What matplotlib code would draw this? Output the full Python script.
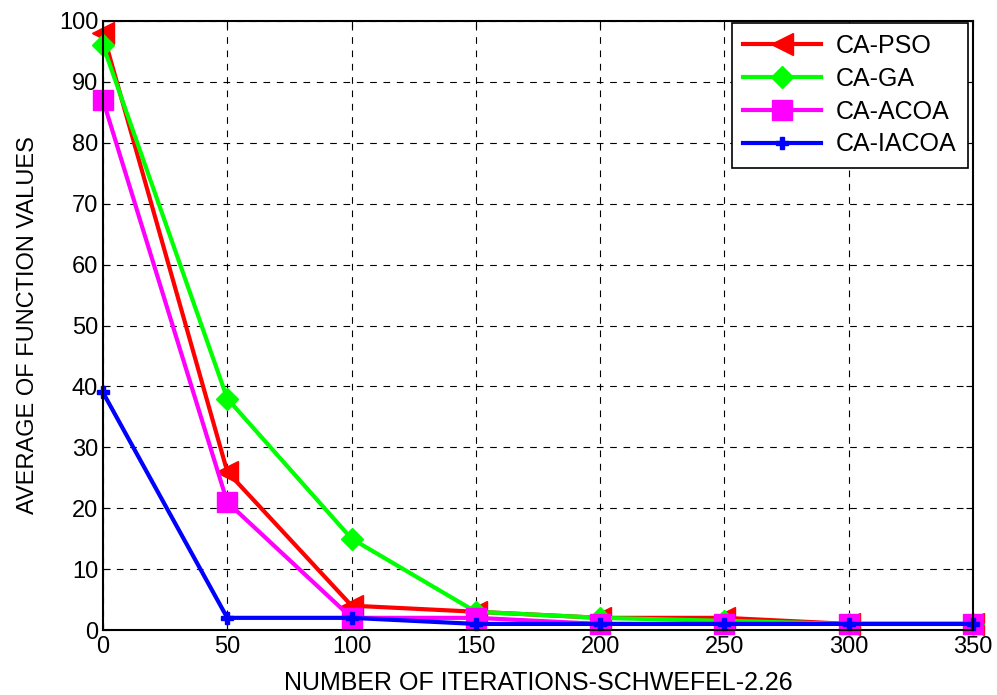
import matplotlib.pyplot as plt

plt.rcParams['font.family'] = ['Liberation Sans', 'DejaVu Sans']

iterations = [0, 50, 100, 150, 200, 250, 300, 350]
ca_pso = [98, 26, 4, 3, 2, 2, 1, 1]
ca_ga = [96, 38, 15, 3, 2, 1.5, 1, 1]
ca_acoa = [87, 21, 2, 2, 1, 1, 1, 1]
ca_iacoa = [39, 2, 2, 1, 1, 1, 1, 1]

fig = plt.figure(figsize=(9.97, 6.95), dpi=100)
ax = fig.add_axes([0.1033, 0.0935, 0.8726, 0.8763])

ax.plot(iterations, ca_pso, color='red', lw=3, marker='<', ms=16, label='CA-PSO', clip_on=False)
ax.plot(iterations, ca_ga, color='#00ff00', lw=3, marker='D', ms=11, label='CA-GA', clip_on=False)
ax.plot(iterations, ca_acoa, color='magenta', lw=3, marker='s', ms=14, label='CA-ACOA', clip_on=False)
ax.plot(iterations, ca_iacoa, color='blue', lw=3, marker='P', ms=9, label='CA-IACOA', clip_on=False)

ax.set_xlim(0, 350)
ax.set_ylim(0, 100)
ax.set_xticks(iterations)
ax.set_yticks(range(0, 101, 10))
ax.grid(True, color='black', linestyle=(0, (6, 6)), linewidth=0.8)
ax.tick_params(axis='both', labelsize=17, direction='in', length=5, top=True, right=True)
ax.tick_params(axis='x', pad=4)
for s in ax.spines.values():
    s.set_linewidth(1.5)

ax.set_xlabel('NUMBER OF ITERATIONS-SCHWEFEL-2.26', fontsize=18, labelpad=10)
ax.set_ylabel('AVERAGE OF FUNCTION VALUES', fontsize=17, labelpad=14)

leg = ax.legend(loc='upper right', bbox_to_anchor=(0.994, 0.997), borderaxespad=0,
                fontsize=18, fancybox=False, edgecolor='black', framealpha=1,
                handlelength=3.1, borderpad=0.45, labelspacing=0.35, handletextpad=0.6)
leg.get_frame().set_linewidth(1.2)

plt.savefig('out.png', dpi=100)
